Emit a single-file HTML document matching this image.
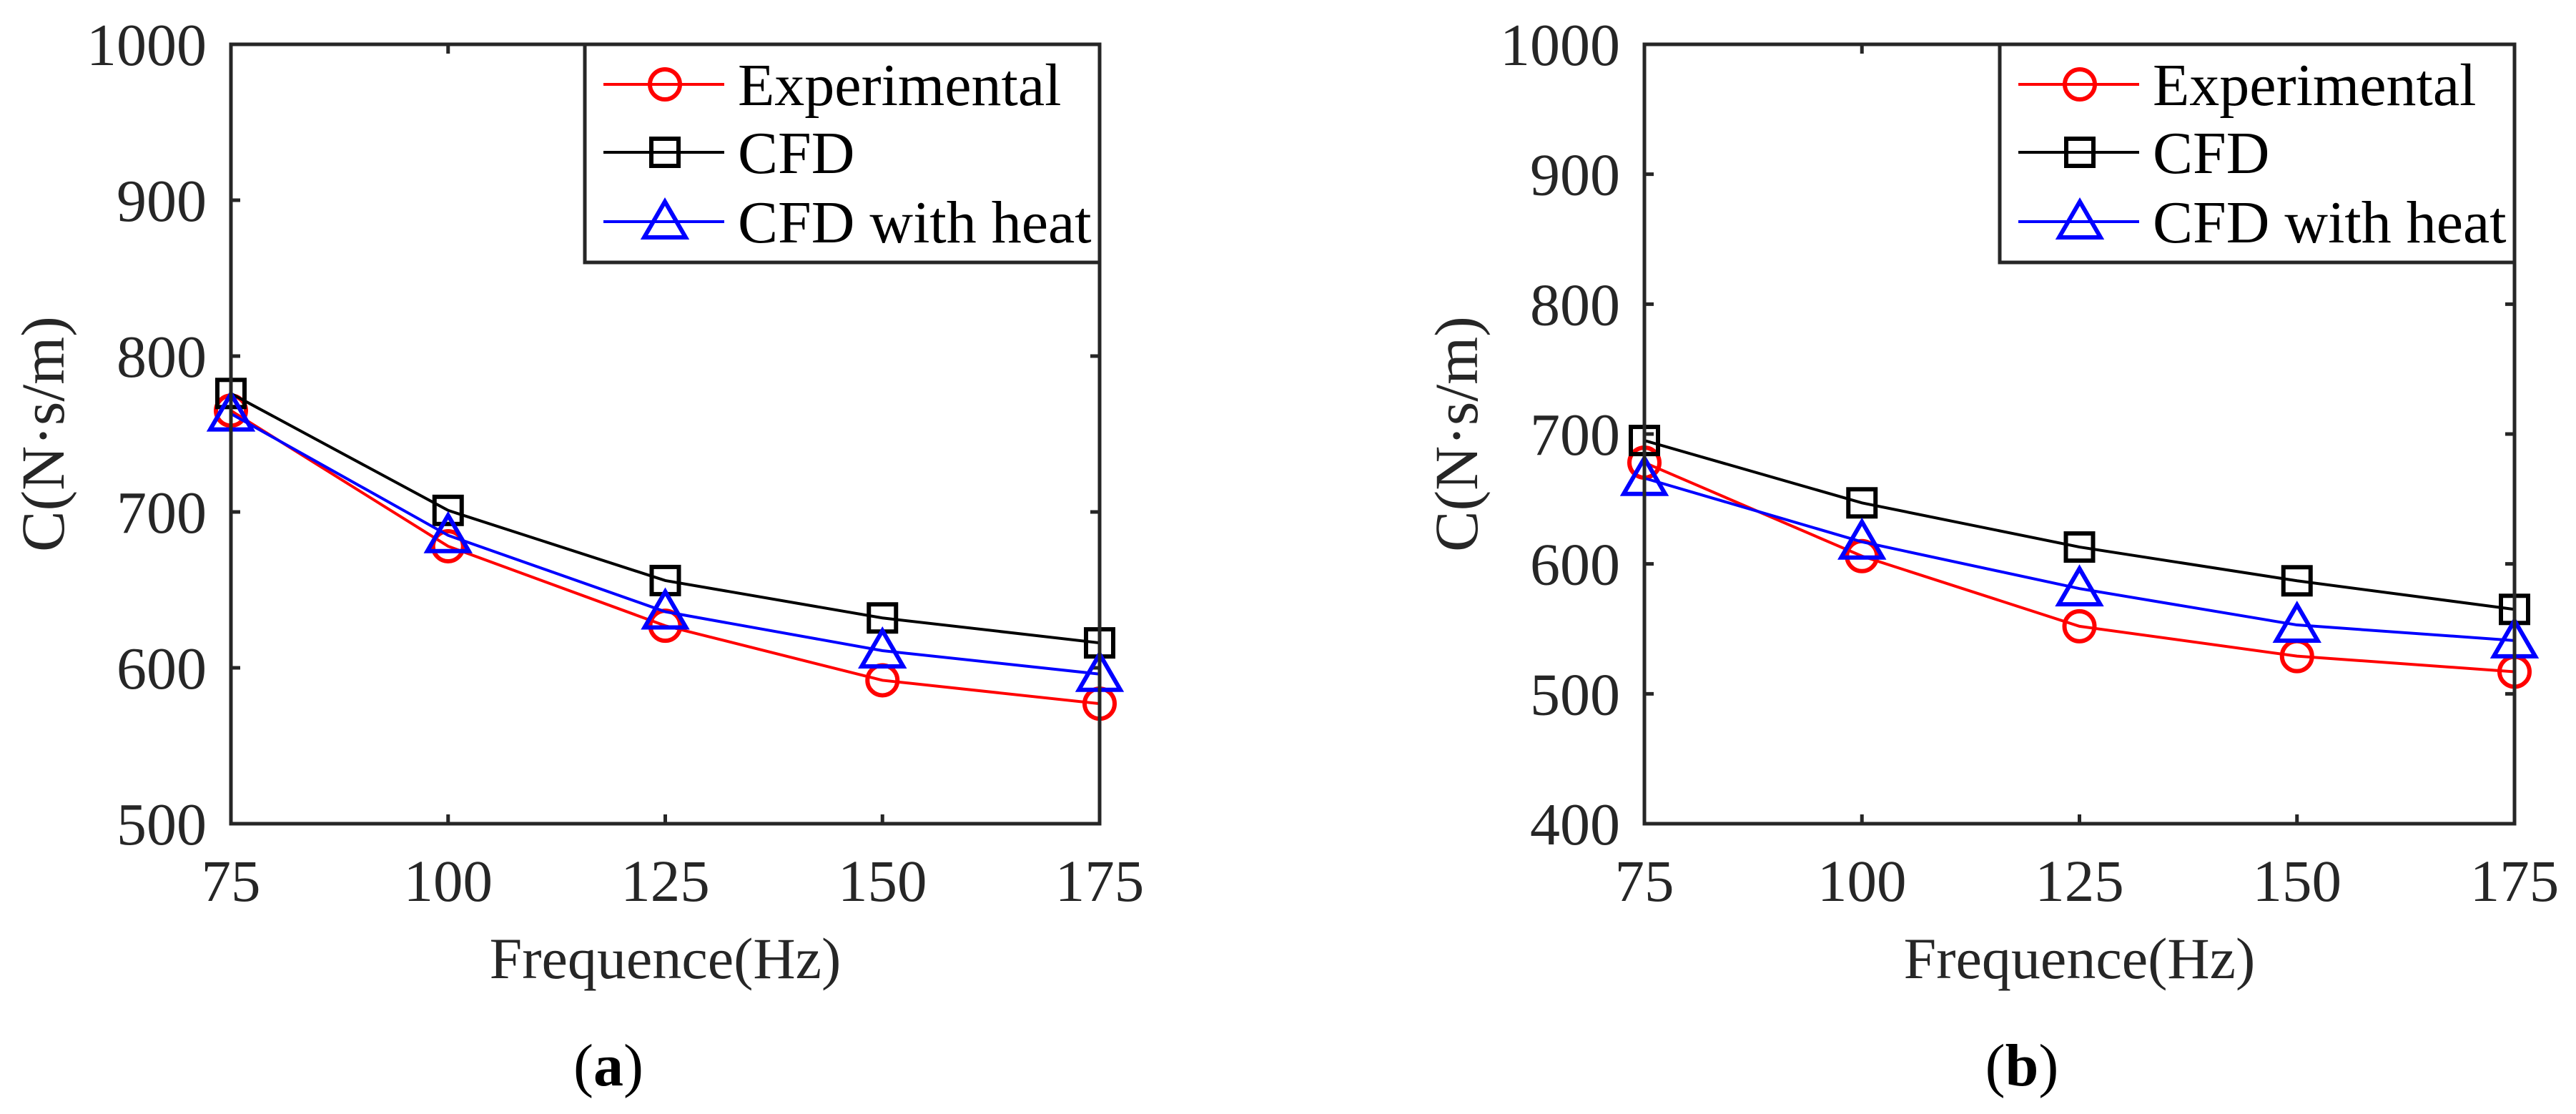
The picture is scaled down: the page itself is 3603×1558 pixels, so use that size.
<!DOCTYPE html>
<html><head><meta charset="utf-8"><style>
html,body{margin:0;padding:0;background:#fff;}
svg{display:block;font-family:"Liberation Serif",serif;}
</style></head>
<body>
<svg id="fig" width="3603" height="1558" viewBox="0 0 3603 1558" xmlns="http://www.w3.org/2000/svg"></svg>
<script>
const categories = [75, 100, 125, 150, 175];
const xTicks = [75, 100, 125, 150, 175];
const seriesNames = ["Experimental", "CFD", "CFD with heat"];
const aExperimental = [765, 678, 627, 592, 577];
const aCFD = [776, 701, 656, 632, 616];
const aHeat = [763, 685, 636, 611, 596];
const aYTicks = [500, 600, 700, 800, 900, 1000];
const bExperimental = [678, 606, 552, 529, 517];
const bCFD = [695, 647, 613, 587, 565];
const bHeat = [666, 617, 581, 553, 541];
const bYTicks = [400, 500, 600, 700, 800, 900, 1000];

const NS = "http://www.w3.org/2000/svg";
const svg = document.getElementById('fig');
function mk(tag, attrs, parent){
  const e = document.createElementNS(NS, tag);
  for (const k in attrs) e.setAttribute(k, attrs[k]);
  (parent||svg).appendChild(e);
  return e;
}
const colors = ["#ff0000", "#000000", "#0000ff"];
const markers = ["circle", "square", "triangle"];

function marker(g, type, x, y, color){
  let e;
  if (type === "circle") e = mk('circle', {cx:x, cy:y, r:21, fill:'none', stroke:color, 'stroke-width':6}, g);
  else if (type === "square") e = mk('rect', {x:x-19, y:y-19, width:38, height:38, fill:'none', stroke:color, 'stroke-width':6}, g);
  else e = mk('polygon', {points:`${x},${y-28} ${x+29},${y+22} ${x-29},${y+22}`, fill:'none', stroke:color, 'stroke-width':6}, g);
  return e;
}

function drawPanel(id, L, T, R, B, yMin, yMax, yTicks, series, caption){
  const g = mk('g', {});
  
  
  const xS = v => L + (v - categories[0]) / (categories[categories.length-1] - categories[0]) * (R - L);
  const yS = v => B - (v - yMin) / (yMax - yMin) * (B - T);
  xTicks.forEach(t => {
    const x = xS(t);
    const tk = mk('path', {d:`M${x},${B} v-13 M${x},${T} v13`, stroke:'#262626', 'stroke-width':5}, g);
    
    
    const lb = mk('text', {x:x, y:1260, 'text-anchor':'middle', 'font-size':83, fill:'#262626'}, g);
    lb.textContent = t;
    
    
  });
  yTicks.forEach(t => {
    const y = yS(t);
    const tk = mk('path', {d:`M${L},${y} h13 M${R},${y} h-13`, stroke:'#262626', 'stroke-width':5}, g);
    
    
    const lb = mk('text', {x:L-34, y:y+29, 'text-anchor':'end', 'font-size':84, fill:'#262626'}, g);
    lb.textContent = t;
    
    
  });
  series.forEach((vals, si) => {
    const pts = vals.map((v, i) => `${xS(categories[i])},${yS(v)}`).join(' ');
    const line = mk('polyline', {points:pts, fill:'none', stroke:colors[si], 'stroke-width':4}, g);
    
    
    vals.forEach((v, i) => {
      const m = marker(g, markers[si], xS(categories[i]), yS(v), colors[si]);
      
      
    });
  });
  const box = mk('rect', {x:L, y:T, width:R-L, height:B-T, fill:'none', stroke:'#262626', 'stroke-width':5}, g);
  
  
  const lx = R - 720, ly = T;
  const lg = mk('g', {}, g);
  
  
  mk('rect', {x:lx, y:ly, width:720, height:305, fill:'#fff', stroke:'#262626', 'stroke-width':5}, lg);
  const rows = [56, 151, 248];
  seriesNames.forEach((n, si) => {
    const yy = ly + rows[si];
    mk('line', {x1:lx+26, y1:yy, x2:lx+195, y2:yy, stroke:colors[si], 'stroke-width':4}, lg);
    marker(lg, markers[si], lx+112, yy, colors[si]);
    const t = mk('text', {x:lx+214, y:yy+29, 'font-size':84, fill:'#000'}, lg);
    t.textContent = n;
    
    
  });
  const xt = mk('text', {x:(L+R)/2, y:1368, 'text-anchor':'middle', 'font-size':82, fill:'#262626'}, g);
  xt.textContent = 'Frequence(Hz)';
  
  
  const yx = L - 234, yy = (T+B)/2;
  const yt = mk('text', {x:yx, y:yy, 'text-anchor':'middle', 'font-size':86, fill:'#262626', transform:`rotate(-90 ${yx} ${yy})`}, g);
  yt.textContent = 'C(N·s/m)';
  
  
  const cap = mk('text', {x:L+528, y:1518, 'text-anchor':'middle', 'font-size':84, fill:'#000'}, g);
  cap.innerHTML = '(<tspan font-weight="bold">' + caption + '</tspan>)';
  
  
}

drawPanel('a', 323, 62, 1538, 1152, 500, 1000, aYTicks, [aExperimental, aCFD, aHeat], 'a');
drawPanel('b', 2300, 62, 3517, 1152, 400, 1000, bYTicks, [bExperimental, bCFD, bHeat], 'b');
</script>
</body></html>
